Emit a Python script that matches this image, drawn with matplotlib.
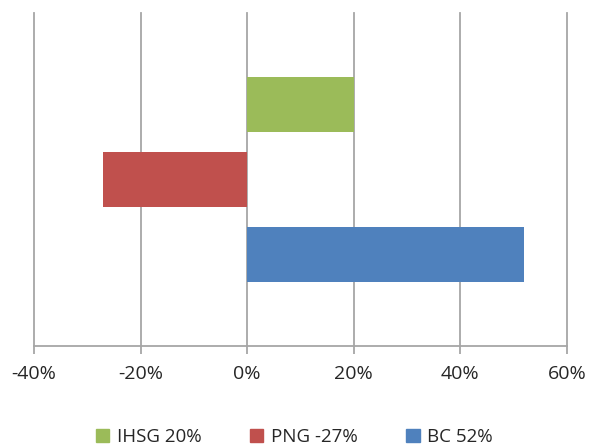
import matplotlib.pyplot as plt
from matplotlib.patches import Patch
from matplotlib.ticker import FuncFormatter

# series (bottom to top as drawn)
names = ['BC 52%', 'PNG -27%', 'IHSG 20%']
values = [52, -27, 20]
colors = ['#4F81BD', '#C0504D', '#9BBB59']

plt.rcParams['font.family'] = ['Open Sans', 'DejaVu Sans']

fig = plt.figure(figsize=(5.89, 4.45), dpi=100)
ax = fig.add_axes([34/589, 1 - 346/445, (567-34)/589, (346-13)/445])

ypos = range(len(values))
ax.barh(ypos, values, height=0.73, color=colors, zorder=3)

ax.set_xlim(-40, 60)
ax.set_ylim(-1.22, 3.22)
ax.set_xticks(range(-40, 61, 20))
ax.xaxis.set_major_formatter(FuncFormatter(lambda v, p: f'{v:.0f}%'))
ax.set_yticks([])
ax.grid(axis='x', color='#A6A6A6', linewidth=1.3, zorder=0)
for gl in ax.get_xgridlines():
    gl.set_clip_on(False)
for s in ['left', 'right', 'top']:
    ax.spines[s].set_visible(False)
ax.spines['bottom'].set_color('#A6A6A6')
ax.spines['bottom'].set_linewidth(1.3)
ax.tick_params(axis='x', direction='out', length=6, width=1.3, color='#A6A6A6',
               labelsize=14, labelcolor='#262626', pad=8)

# legend order: top to bottom bars
handles = [Patch(color=colors[i]) for i in [2, 1, 0]]
labels = [names[i] for i in [2, 1, 0]]
fig.legend(handles, labels, loc='center', bbox_to_anchor=(0.5, 1 - 437/445),
           ncol=3, frameon=False, fontsize=13.5, handlelength=0.7, handleheight=0.7,
           handletextpad=0.4, columnspacing=2.6, labelcolor='#262626')

fig.savefig('out.png', dpi=100)
